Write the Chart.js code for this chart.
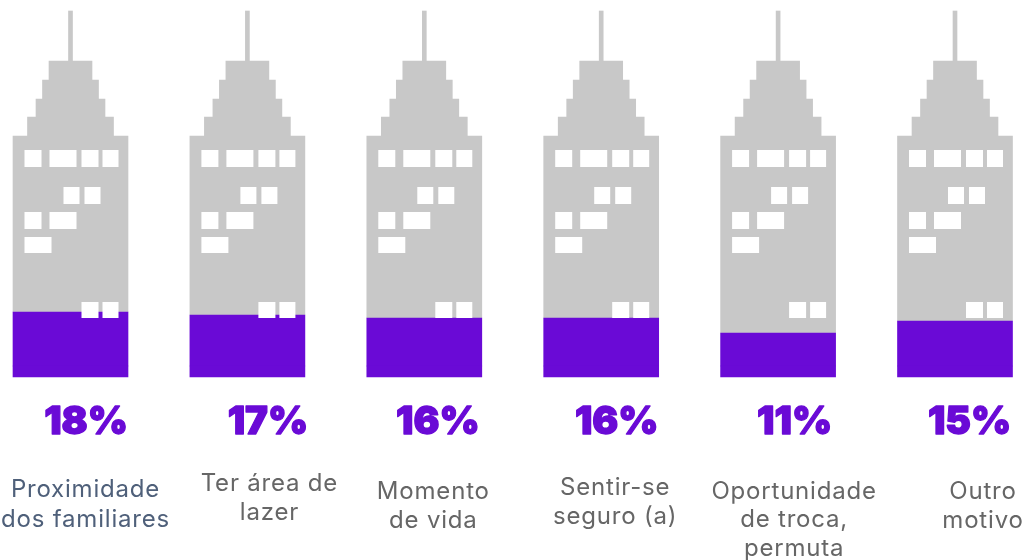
<!DOCTYPE html>
<html lang="pt">
<head>
<meta charset="utf-8">
<style>html,body{margin:0;padding:0;background:#fff}canvas{display:block}</style>
<script src="https://cdn.jsdelivr.net/npm/chart.js@4"></script>
</head>
<body>
<canvas id="c" width="1027" height="560"></canvas>
<script>
const categories = ["Proximidade dos familiares","Ter área de lazer","Momento de vida","Sentir-se seguro (a)","Oportunidade de troca, permuta","Outro motivo"];
const percentValues = [18,17,16,16,11,15];
const plinth = [-3.67,-3.67,-3.67,-3.67,-3.67,-3.67];
const bodyTop = [76.67,76.67,76.67,76.67,76.67,76.67];
const tier1 = [6.33,6.33,6.33,6.33,6.33,6.33];
const tier2 = [6,6,6,6,6,6];
const tier3 = [6.33,6.33,6.33,6.33,6.33,6.33];
const tier4 = [6.33,6.33,6.33,6.33,6.33,6.33];
const spire = [16.67,16.67,16.67,16.67,16.67,16.67];

const PURPLE = "#6a0ad6", GREY = "#c8c8c8", TEXT = "#666666", TEXT_BLUE = "#4f607a";

// label layout: offset of each text block from its building's centre
const textLayout = [
  {pctDx:15.5, pctY:422, dx:15, lines:["Proximidade","dos familiares"], ys:[490,520], color:TEXT_BLUE},
  {pctDx:20.5, pctY:422, dx:22, lines:["Ter área de","lazer"], ys:[484,513], color:TEXT},
  {pctDx:13.5, pctY:422, dx:9,  lines:["Momento","de vida"], ys:[492,521], color:TEXT},
  {pctDx:15.5, pctY:422, dx:14, lines:["Sentir-se","seguro (a)"], ys:[488,517], color:TEXT},
  {pctDx:16.5, pctY:422, dx:16, lines:["Oportunidade","de troca,","permuta"], ys:[492,520,549], color:TEXT},
  {pctDx:14.5, pctY:422, dx:28, lines:["Outro","motivo"], ys:[492,521], color:TEXT}
];
// windows of the façade, offsets from each building's centre and base
const windows = [
  [-46,-29,-227,-210],[-21,6,-227,-210],[11,28,-227,-210],[32,48,-227,-210],
  [-7,9,-190,-173],[14,30,-190,-173],
  [-46,-29,-165,-148],[-21,6,-165,-148],
  [-46,-19,-140,-124],
  [11,28,-75,-59],[32,48,-75,-59]
];

const decor = {
  id:"decor",
  afterDatasetsDraw(chart){
    const ctx = chart.ctx, meta = chart.getDatasetMeta(0), y0 = chart.scales.y.getPixelForValue(-3.67);
    ctx.save();
    meta.data.forEach((bar,i)=>{
      ctx.fillStyle = "#fff";
      windows.forEach(w=>ctx.fillRect(bar.x+w[0], y0+w[2], w[1]-w[0], w[3]-w[2]));
      const t = textLayout[i];
      ctx.textAlign = "center"; ctx.textBaseline = "middle";
      ctx.fillStyle = PURPLE; ctx.strokeStyle = PURPLE; ctx.lineWidth = 1.3; ctx.lineJoin = "round";
      ctx.font = "900 38.5px Inter";
      ctx.letterSpacing = "0px";
      ctx.fillText(percentValues[i]+"%", bar.x+t.pctDx, t.pctY);
      ctx.strokeText(percentValues[i]+"%", bar.x+t.pctDx, t.pctY);
      ctx.fillStyle = t.color;
      ctx.font = "400 24px Inter";
      ctx.letterSpacing = "0.8px";
      t.lines.forEach((l,k)=>ctx.fillText(l, bar.x+t.dx, t.ys[k]));
    });
    ctx.restore();
  }
};

const fill = (label,data,color,w)=>({label,data,backgroundColor:color,barThickness:w,borderWidth:0,clip:false,stack:"b"});
new Chart(document.getElementById("c"),{
  type:"bar",
  data:{labels:categories,datasets:[
    fill("base",plinth,PURPLE,115),
    fill("Percentual",percentValues,PURPLE,115),
    fill("corpo",bodyTop.map((t,i)=>t-percentValues[i]),GREY,115),
    fill("t1",tier1,GREY,86),
    fill("t2",tier2,GREY,69),
    fill("t3",tier3,GREY,56),
    fill("t4",tier4,GREY,43),
    fill("spire",spire,GREY,4)
  ]},
  options:{
    responsive:false,animation:false,
    layout:{padding:{left:70.5,right:72,top:11,bottom:183}},
    plugins:{legend:{display:false},tooltip:{enabled:false}},
    scales:{
      x:{type:"category",stacked:true,offset:false,display:false},
      y:{stacked:true,display:false,min:-3.67,max:118.33}
    }
  },
  plugins:[decor]
});
</script>
</body>
</html>
